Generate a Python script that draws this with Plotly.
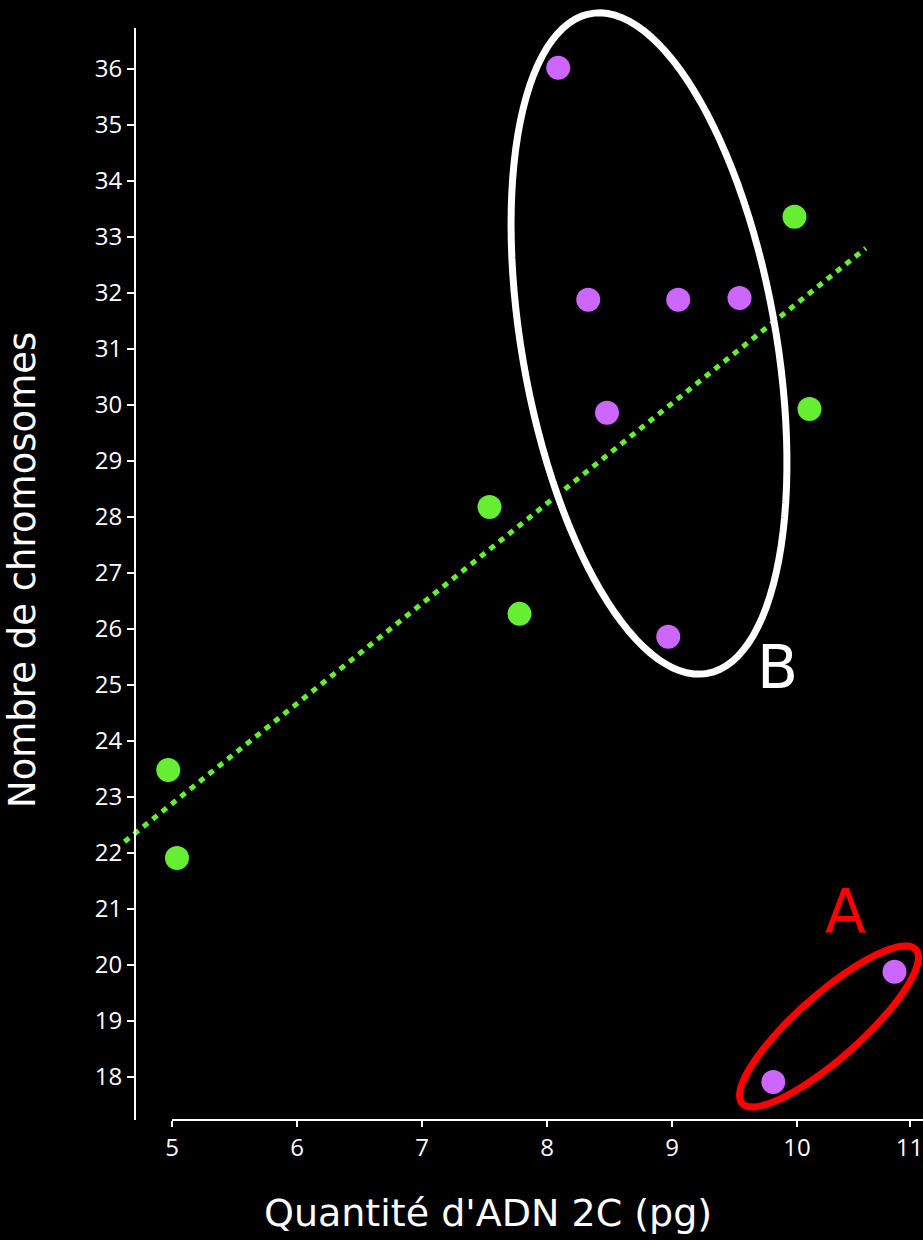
import numpy as np
import plotly.graph_objects as go

# ---- data ----
green_x = [4.97, 5.04, 7.54, 7.78, 9.98, 10.10]
green_y = [23.48, 21.91, 28.18, 26.27, 33.36, 29.93]
purple_x = [8.09, 8.33, 9.05, 9.54, 8.48, 8.97, 9.81, 10.78]
purple_y = [36.02, 31.88, 31.88, 31.91, 29.86, 25.86, 17.91, 19.88]
trend_x = [4.62, 10.55]
trend_y = [22.20, 32.80]
x_ticks = [5, 6, 7, 8, 9, 10, 10.9]
x_ticktext = ["5", "6", "7", "8", "9", "10", "11"]
y_ticks = list(range(18, 37))

W, H = 923, 1240
L, R, T, B = 110, 923, 28, 1120          # plot area in pixels
XR = [4.504, 11.008]
YR = [17.232, 36.732]


def xp(px):
    return (px - L) / (R - L)


def yp(py):
    return (B - py) / (B - T)


def ellipse_path(cx, cy, a, b, ang_deg, n=120):
    # ellipse defined in pixel space, returned as paper-coordinate path
    t = np.linspace(0, 2 * np.pi, n)
    ang = np.radians(ang_deg)
    ux, uy = np.cos(ang), -np.sin(ang)      # major axis direction (screen coords)
    vx, vy = np.sin(ang), np.cos(ang)
    px = cx + a * np.cos(t) * ux + b * np.sin(t) * vx
    py = cy + a * np.cos(t) * uy + b * np.sin(t) * vy
    pts = [f"{xp(x):.5f},{yp(y):.5f}" for x, y in zip(px, py)]
    return "M " + " L ".join(pts) + " Z"


fig = go.Figure()
fig.add_trace(go.Scatter(x=trend_x, y=trend_y, mode="lines",
                         line=dict(color="#66EE33", width=5, dash="6px,6px"),
                         hoverinfo="skip", showlegend=False))
fig.add_trace(go.Scatter(x=green_x, y=green_y, mode="markers",
                         marker=dict(color="#66EE33", size=24), cliponaxis=False,
                         showlegend=False))
fig.add_trace(go.Scatter(x=purple_x, y=purple_y, mode="markers",
                         marker=dict(color="#CC66FF", size=24), cliponaxis=False,
                         showlegend=False))

shapes = [
    # x axis line (starts at x=5)
    dict(type="line", xref="x", yref="paper", x0=5, x1=XR[1], y0=0, y1=0,
         line=dict(color="white", width=2)),
    # ellipse B (white)
    dict(type="path", xref="paper", yref="paper",
         path=ellipse_path(649, 343.5, 335, 127, -80), line=dict(color="white", width=7)),
    # ellipse A (red)
    dict(type="path", xref="paper", yref="paper",
         path=ellipse_path(829, 1026.5, 116, 32, 41.5), line=dict(color="#FF0000", width=7)),
]

annotations = [
    dict(text="B", x=xp(777), y=yp(667), xref="paper", yref="paper", showarrow=False,
         font=dict(family="DejaVu Sans", size=60, color="white"), xanchor="center", yanchor="middle"),
    dict(text="A", x=xp(845), y=yp(911), xref="paper", yref="paper", showarrow=False,
         font=dict(family="DejaVu Sans", size=60, color="#FF0000"), xanchor="center", yanchor="middle"),
    dict(text="Quantité d'ADN 2C (pg)", x=xp(488), y=yp(1213), xref="paper", yref="paper",
         showarrow=False, font=dict(family="DejaVu Sans", size=38, color="white"),
         xanchor="center", yanchor="middle"),
    dict(text="Nombre de chromosomes", x=xp(22), y=yp(570), xref="paper", yref="paper",
         showarrow=False, textangle=-90, font=dict(family="DejaVu Sans", size=37, color="white"),
         xanchor="center", yanchor="middle"),
]

fig.update_layout(
    width=W, height=H,
    margin=dict(l=L, r=W - R, t=T, b=H - B, pad=0),
    paper_bgcolor="black", plot_bgcolor="black",
    shapes=shapes, annotations=annotations,
    xaxis=dict(range=XR, tickvals=x_ticks, ticktext=x_ticktext, showgrid=False,
               zeroline=False, showline=False, ticks="outside", ticklen=6, tickwidth=2,
               tickcolor="white", ticklabeloverflow="allow",
               tickfont=dict(family="Open Sans", size=24, color="white")),
    yaxis=dict(range=YR, tickvals=y_ticks, showgrid=False, zeroline=False,
               anchor="free", position=xp(135), showline=True, linecolor="white",
               linewidth=2, ticks="outside", ticklen=7, tickwidth=2, tickcolor="white",
               tickfont=dict(family="Open Sans", size=24, color="white")),
)

fig.write_html("out.html", config={"displayModeBar": False})
with open("out.html", encoding="utf-8") as f:
    html = f.read()
html = html.replace("<head>", "<head><style>html,body{margin:0;padding:0;background:#000;overflow:hidden}</style>", 1)
with open("out.html", "w", encoding="utf-8") as f:
    f.write(html)
